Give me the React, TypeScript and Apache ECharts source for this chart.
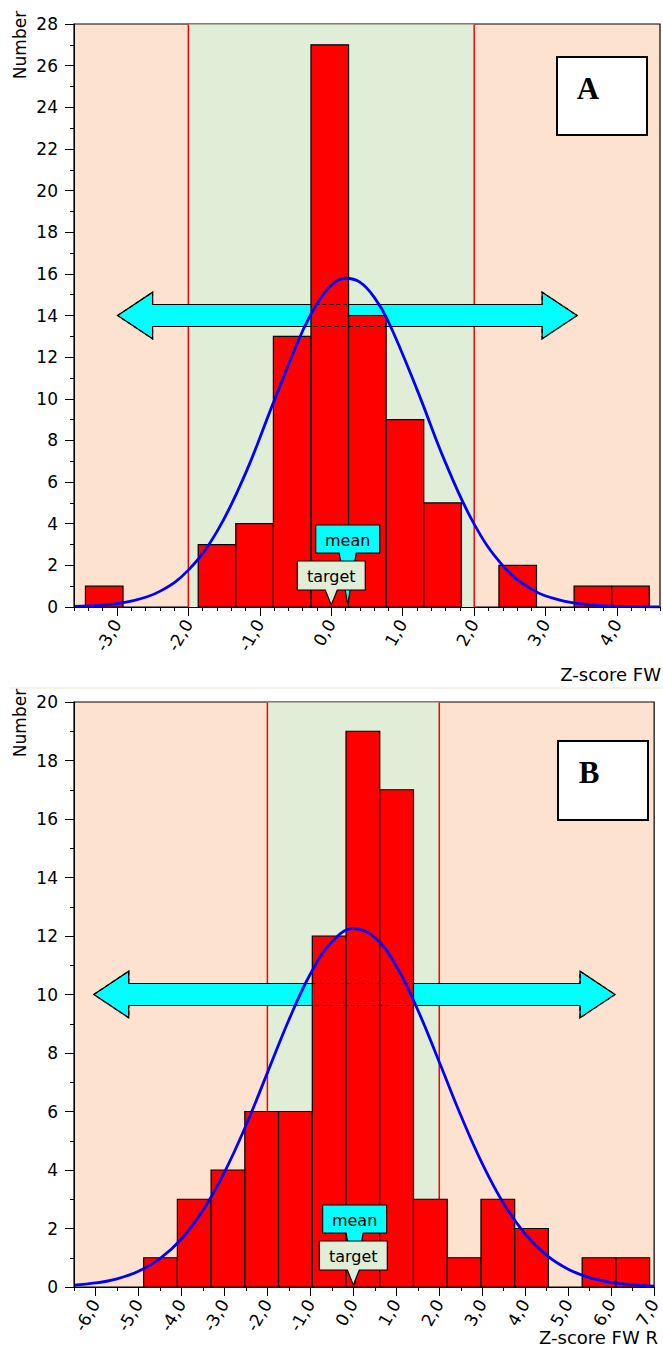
import React, { useEffect, useRef } from "react";
import * as echarts from "echarts";

// ---------- Chart A data ----------
const xMinA = -3.6;
const xMaxA = 4.6;
const yMaxA = 28;
const xTicksA = [-3, -2, -1, 0, 1, 2, 3, 4];
const binEdgesA = [-3.44, -2.914, -2.388, -1.862, -1.336, -0.81, -0.284, 0.242, 0.768, 1.294, 1.82, 2.346, 2.872, 3.398, 3.924, 4.45];
const countsA = [1, 0, 0, 3, 4, 13, 27, 14, 9, 5, 0, 2, 0, 1, 1];
const curveXA = [-3.6, -3.2, -2.8, -2.4, -2.0, -1.6, -1.2, -0.8, -0.4, -0.2, 0.0, 0.2, 0.4, 0.6, 0.8, 1.2, 1.6, 2.0, 2.4, 2.8, 3.2, 3.6, 4.0, 4.4, 4.6];
const curveYA = [0.03, 0.09, 0.28, 0.75, 1.77, 3.62, 6.42, 9.9, 13.27, 14.56, 15.44, 15.79, 15.6, 14.88, 13.7, 10.44, 6.92, 3.98, 1.99, 0.86, 0.33, 0.11, 0.03, 0.01, 0.0];
const limitsA = [-2, 2];
const arrowA = [-2.99, 3.44, 14.0];
const meanA = 0.23;
const targetA = 0;

// ---------- Chart B data ----------
const xMinB = -6.5;
const xMaxB = 7.0;
const yMaxB = 20;
const xTicksB = [-6, -5, -4, -3, -2, -1, 0, 1, 2, 3, 4, 5, 6, 7];
const binEdgesB = [-4.88, -4.095, -3.31, -2.525, -1.74, -0.955, -0.17, 0.615, 1.4, 2.185, 2.97, 3.755, 4.54, 5.325, 6.11, 6.895];
const countsB = [1, 3, 4, 6, 6, 12, 19, 17, 3, 1, 3, 2, 0, 1, 1];
const curveXB = [-6.5, -6.0, -5.5, -5.0, -4.5, -4.0, -3.5, -3.0, -2.5, -2.0, -1.5, -1.0, -0.5, 0.0, 0.5, 1.0, 1.5, 2.0, 2.5, 3.0, 3.5, 4.0, 4.5, 5.0, 5.5, 6.0, 6.5, 7.0];
const curveYB = [0.064, 0.138, 0.281, 0.538, 0.969, 1.64, 2.62, 3.92, 5.52, 7.32, 9.13, 10.7, 11.8, 12.25, 11.95, 10.97, 9.47, 7.69, 5.87, 4.22, 2.85, 1.81, 1.08, 0.61, 0.32, 0.16, 0.075, 0.033];
const limitsB = [-2, 2];
const arrowB = [-6.04, 6.09, 10.0];
const meanB = 0.03;
const targetB = 0;

const FONT = '"DejaVu Sans", sans-serif';
const PEACH = "#FDE3CF";
const GREEN = "#E0EDD7";

const fmt = (v: number) => {
  if (Math.abs(v - Math.round(v)) > 1e-6) return "";
  return Math.round(v).toFixed(1).replace(".", ",");
};

function buildChart(
  gi: number,
  xMin: number,
  xMax: number,
  yMax: number,
  xTicks: number[],
  minorStep: number,
  edges: number[],
  counts: number[],
  cx: number[],
  cy: number[],
  limits: number[],
  arrow: number[],
  mean: number,
  target: number
) {
  const xi = gi * 2;
  const bars = counts
    .map((c, i) => [edges[i], edges[i + 1], c])
    .filter((d) => d[2] > 0);

  const xAxes = [
    {
      gridIndex: gi,
      type: "value",
      position: "bottom",
      min: xMin,
      max: xMax,
      interval: minorStep,
      z: 10,
      axisLine: { show: true, onZero: false, lineStyle: { color: "#000", width: 1 } },
      axisTick: { show: true, length: 4, lineStyle: { color: "#000", width: 1 } },
      axisLabel: {
        formatter: fmt,
        rotate: 60,
        margin: 14,
        fontSize: 17,
        fontFamily: FONT,
        color: "#000",
      },
      splitLine: { show: false },
    },
    {
      gridIndex: gi,
      type: "value",
      position: "bottom",
      min: xMin,
      max: xMax,
      z: 10,
      axisLine: { show: false, onZero: false },
      axisTick: { show: true, customValues: xTicks, length: 9, lineStyle: { color: "#000", width: 1 } },
      axisLabel: { show: false },
      splitLine: { show: false },
    },
  ];

  const yAxis = {
    gridIndex: gi,
    type: "value",
    min: 0,
    max: yMax,
    interval: 2,
    z: 10,
    axisLine: { show: true, onZero: false, lineStyle: { color: "#000", width: 1 } },
    axisTick: { show: true, length: 9, lineStyle: { color: "#000", width: 1 } },
    minorTick: { show: true, splitNumber: 2, length: 4, lineStyle: { color: "#000", width: 1 } },
    axisLabel: { fontSize: 17, fontFamily: FONT, color: "#000", margin: 16 },
    splitLine: { show: false },
    minorSplitLine: { show: false },
  };

  const common = { xAxisIndex: xi, yAxisIndex: gi, silent: true, animation: false };

  const series: any[] = [
    {
      ...common,
      type: "custom",
      z: 0,
      data: [[limits[0], limits[1]]],
      renderItem: (p: any, api: any) => {
        const tl = api.coord([xMin, yMax]);
        const br = api.coord([xMax, 0]);
        const a = api.coord([api.value(0), yMax]);
        const b = api.coord([api.value(1), 0]);
        return {
          type: "group",
          children: [
            { type: "rect", shape: { x: tl[0], y: tl[1], width: br[0] - tl[0], height: br[1] - tl[1] }, style: { fill: PEACH, stroke: "#000", lineWidth: 1.2 } },
            { type: "rect", shape: { x: a[0], y: a[1] + 0.6, width: b[0] - a[0], height: b[1] - a[1] - 0.6 }, style: { fill: GREEN } },
            { type: "line", shape: { x1: a[0], y1: a[1] + 0.6, x2: a[0], y2: b[1] }, style: { stroke: "#FF0000", lineWidth: 1.5 } },
            { type: "line", shape: { x1: b[0], y1: a[1] + 0.6, x2: b[0], y2: b[1] }, style: { stroke: "#FF0000", lineWidth: 1.5 } },
          ],
        };
      },
    },
    {
      ...common,
      type: "custom",
      z: 1,
      data: [arrow],
      renderItem: (p: any, api: any) => ({
        type: "polygon",
        shape: { points: arrowPts(api) },
        style: { fill: "#00FFFF", stroke: "#000", lineWidth: 1.2 },
      }),
    },
    {
      ...common,
      type: "custom",
      z: 2,
      data: bars,
      renderItem: (p: any, api: any) => {
        const a = api.coord([api.value(0), api.value(2)]);
        const b = api.coord([api.value(1), 0]);
        return {
          type: "rect",
          shape: { x: a[0], y: a[1], width: b[0] - a[0], height: b[1] - a[1] },
          style: { fill: "#FF0000", stroke: "#000", lineWidth: 1.2 },
        };
      },
    },
    {
      ...common,
      type: "custom",
      z: 3,
      data: [arrow],
      renderItem: (p: any, api: any) => ({
        type: "polygon",
        shape: { points: arrowPts(api) },
        style: { fill: "none", stroke: "#000", lineWidth: 1.2, lineDash: [4, 3] },
      }),
    },
    {
      ...common,
      type: "line",
      z: 4,
      data: cx.map((x, i) => [x, cy[i]]),
      smooth: 0.4,
      symbol: "none",
      lineStyle: { color: "#0000FF", width: 2.8 },
    },
    {
      ...common,
      type: "custom",
      z: 6,
      data: [[mean, target]],
      renderItem: (p: any, api: any) => {
        const m = api.coord([api.value(0), 0]);
        const t = api.coord([api.value(1), 0]);
        const axisY = m[1];
        const bubble = (x: number, w: number, h: number, bottom: number, pw: number, fill: string, label: string) => {
          const L = x - w / 2, R = x + w / 2, B = axisY - bottom, T = B - h;
          return [
            {
              type: "polygon",
              shape: {
                points: [[L, T], [R, T], [R, B], [x + pw / 2, B], [x, axisY - 2], [x - pw / 2, B], [L, B]],
              },
              style: { fill, stroke: "#000", lineWidth: 1.2 },
            },
            {
              type: "text",
              style: { text: label, x, y: T + h / 2 + 1, align: "center", verticalAlign: "middle", font: `16px ${FONT}`, fill: "#000" },
            },
          ];
        };
        return {
          type: "group",
          children: [
            ...bubble(m[0], 64, 28, 54, 17, "#00FFFF", "mean"),
            ...bubble(t[0], 68, 29, 17, 12, GREEN, "target"),
          ],
        };
      },
    },
  ];

  return { xAxes, yAxis, series };
}

function arrowPts(api: any) {
  const l = api.coord([api.value(0), api.value(2)]);
  const r = api.coord([api.value(1), api.value(2)]);
  const y = l[1];
  const H = 35, hh = 23.3, bh = 11;
  return [
    [l[0], y], [l[0] + H, y - hh], [l[0] + H, y - bh], [r[0] - H, y - bh], [r[0] - H, y - hh],
    [r[0], y], [r[0] - H, y + hh], [r[0] - H, y + bh], [l[0] + H, y + bh], [l[0] + H, y + hh],
  ];
}

export default function App() {
  const ref = useRef<HTMLDivElement>(null);
  useEffect(() => {
    if (!ref.current) return;
    const chart = echarts.init(ref.current, null, { renderer: "svg" });
    const A = buildChart(0, xMinA, xMaxA, yMaxA, xTicksA, 0.2, binEdgesA, countsA, curveXA, curveYA, limitsA, arrowA, meanA, targetA);
    const B = buildChart(1, xMinB, xMaxB, yMaxB, xTicksB, 0.5, binEdgesB, countsB, curveXB, curveYB, limitsB, arrowB, meanB, targetB);
    const label = (text: string, x: number, y: number, size: number, align: string, rot = 0, weight = "normal", family = FONT) => ({
      type: "text",
      x,
      y,
      rotation: rot,
      z: 20,
      style: { text, align, verticalAlign: "middle", font: `${weight} ${size}px ${family}`, fill: "#000" },
    });
    chart.setOption({
      animation: false,
      backgroundColor: "#FFFFFF",
      grid: [
        { left: 74, top: 24, width: 586, height: 583, containLabel: false },
        { left: 74, top: 702, width: 585, height: 585, containLabel: false },
      ],
      xAxis: [...A.xAxes, ...B.xAxes],
      yAxis: [A.yAxis, B.yAxis],
      series: [...A.series, ...B.series],
      graphic: [
        { type: "line", shape: { x1: 9, y1: 688, x2: 663, y2: 688 }, style: { stroke: "#E9E7D6", lineWidth: 1 }, z: 20 },
        label("Number", 20, 45, 17, "center", Math.PI / 2),
        label("Number", 20, 723, 17, "center", Math.PI / 2),
        label("Z-score FW", 661, 674, 18, "right"),
        label("Z-score FW R", 658, 1337, 18, "right"),
        { type: "rect", shape: { x: 557, y: 57, width: 90, height: 78 }, style: { fill: "#FFFFFF", stroke: "#000", lineWidth: 2 }, z: 20 },
        label("A", 588, 88, 31, "center", 0, "bold", '"Liberation Serif", serif'),
        { type: "rect", shape: { x: 558, y: 741, width: 90, height: 79 }, style: { fill: "#FFFFFF", stroke: "#000", lineWidth: 2 }, z: 20 },
        label("B", 589, 772, 31, "center", 0, "bold", '"Liberation Serif", serif'),
      ],
    });
    return () => chart.dispose();
  }, []);
  return (
    <div
      ref={ref}
      style={{ position: "absolute", left: 0, top: 0, width: 663, height: 1363, background: "#fff" }}
    />
  );
}
